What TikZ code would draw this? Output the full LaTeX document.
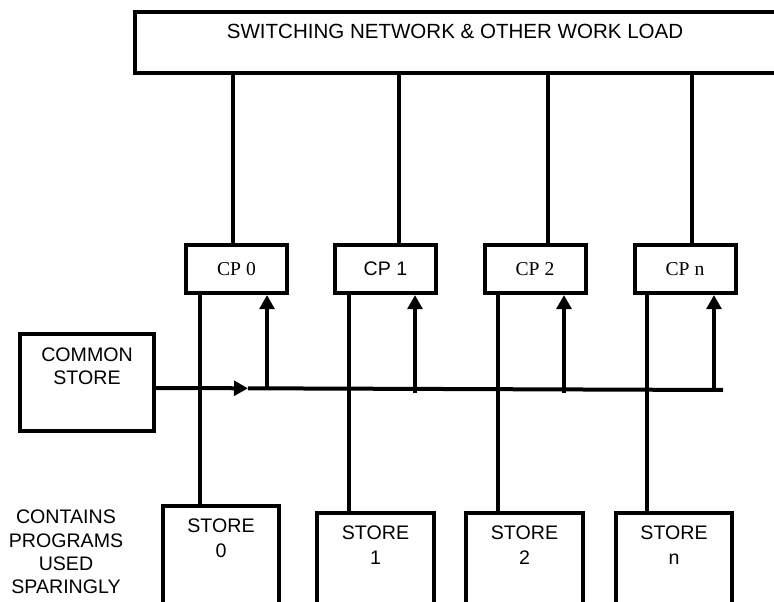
\documentclass[tikz,border=0pt]{standalone}
\usepackage{fontspec}
\setmainfont{Liberation Sans}
\newfontfamily\cpserif{Liberation Serif}
\usetikzlibrary{arrows.meta,positioning}

\begin{document}
\begin{tikzpicture}[x=0.75pt,y=-0.75pt,line width=3pt,
    font=\fontsize{14.7pt}{17.5pt}\selectfont,
    box/.style={draw,rectangle,inner sep=0pt},
    cpbox/.style={box,minimum width=75.75pt,minimum height=36pt},
    storebox/.style={box,minimum width=87.5pt,minimum height=85.5pt},
    txt/.style={align=center,inner sep=0pt},
    tip/.style={-{Triangle[length=10.5pt,width=11pt]}}]
    \useasboundingbox (0,0) rectangle (774,602);

    % Switching network (runs past the right edge)
    \node[box,minimum width=492pt,minimum height=45.75pt] (swnet) at (463,42.5) {};
    \node[txt,font=\fontsize{15.4pt}{18pt}\selectfont] (swtext) at (455,31) {SWITCHING NETWORK \& OTHER WORK LOAD};

    % Central processors
    \node[cpbox] (cp0) at (236.5,269) {\cpserif CP 0};
    \node[cpbox] (cp1) at (385.5,269) {CP 1};
    \node[cpbox] (cp2) at (535,269) {\cpserif CP 2};
    \node[cpbox] (cpn) at (685,269) {\cpserif CP n};

    % Common store
    \node[box,minimum width=100.5pt,minimum height=72.75pt] (common) at (87,382.5) {};
    \node[txt] (commontext) at (87,366) {COMMON\\STORE};

    % Private stores (open at the bottom edge)
    \node[storebox] (store0) at (221,563) {};
    \node[txt] (s0text) at (221,538.5) {STORE\\[1pt]0};
    \node[storebox] (store1) at (375.5,570) {};
    \node[txt] (s1text) at (375.5,545) {STORE\\[1pt]1};
    \node[storebox] (store2) at (524.5,570) {};
    \node[txt] (s2text) at (524.5,545) {STORE\\[1pt]2};
    \node[storebox] (storen) at (674,570) {};
    \node[txt] (sntext) at (674,545) {STORE\\[1pt]n};

    \node[txt] (note) at (66,552) {CONTAINS\\PROGRAMS\\USED\\SPARINGLY};

    % Links to the switching network
    \coordinate (u0) at (233,0);
    \coordinate (u1) at (399,0);
    \coordinate (u2) at (548,0);
    \coordinate (un) at (692,0);
    \draw (u0 |- swnet.south) -- (u0 |- cp0.north);
    \draw (u1 |- swnet.south) -- (u1 |- cp1.north);
    \draw (u2 |- swnet.south) -- (u2 |- cp2.north);
    \draw (un |- swnet.south) -- (un |- cpn.north);

    % Links down to the private stores
    \coordinate (d0) at (200,0);
    \coordinate (d1) at (349,0);
    \coordinate (d2) at (498,0);
    \coordinate (dn) at (647,0);
    \draw (d0 |- cp0.south) -- (d0 |- store0.north);
    \draw (d1 |- cp1.south) -- (d1 |- store1.north);
    \draw (d2 |- cp2.south) -- (d2 |- store2.north);
    \draw (dn |- cpn.south) -- (dn |- storen.north);

    % Common store bus
    \coordinate (busL) at (154,388);
    \coordinate (busA) at (248,388.3);
    \coordinate (busR) at (723,390);
    \draw[tip] (busL) -- (busA);
    \draw (busA) -- (busR);

    % Bus to the processors
    \coordinate (a0) at (267,388.5);
    \coordinate (a1) at (415,393);
    \coordinate (a2) at (564,393);
    \coordinate (an) at (714,390);
    \draw[tip] (a0) -- (a0 |- cp0.south);
    \draw[tip] (a1) -- (a1 |- cp1.south);
    \draw[tip] (a2) -- (a2 |- cp2.south);
    \draw[tip] (an) -- (an |- cpn.south);
\end{tikzpicture}
\end{document}
